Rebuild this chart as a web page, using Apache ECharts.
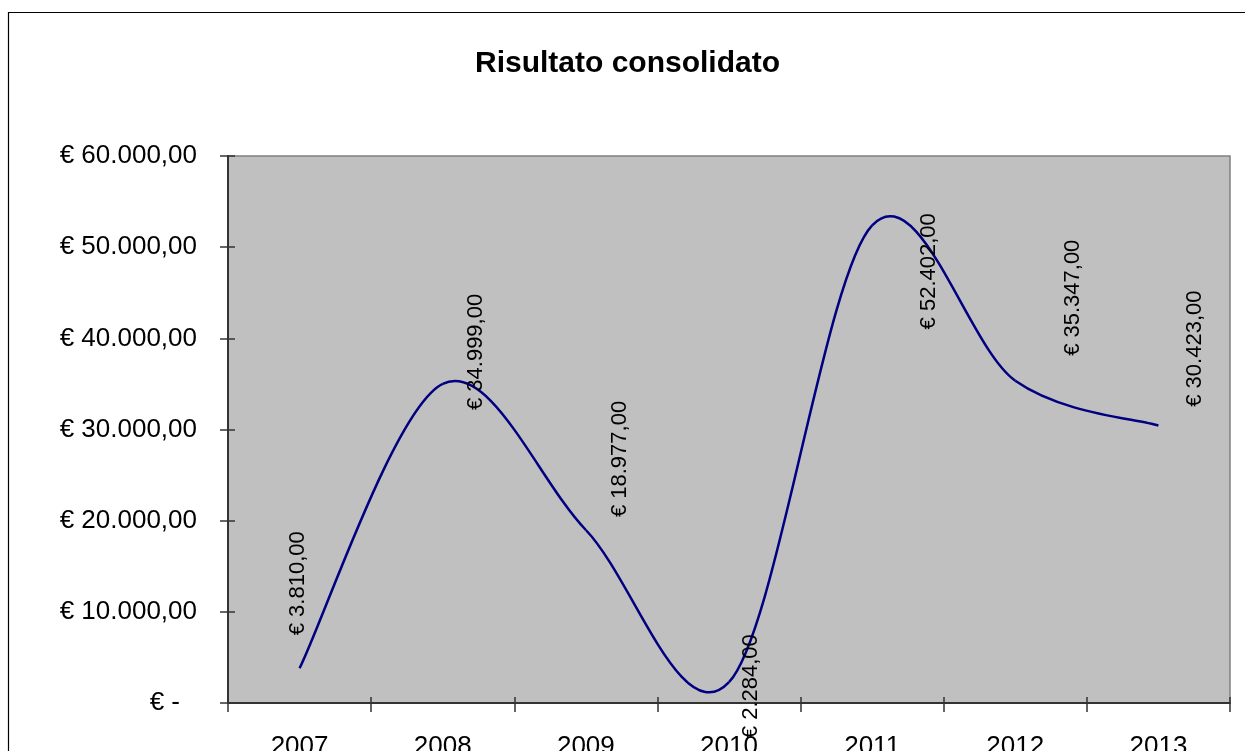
<!DOCTYPE html>
<html>
<head>
<meta charset="utf-8">
<script src="https://cdn.jsdelivr.net/npm/echarts@6/dist/echarts.min.js"></script>
<style>
html,body{margin:0;padding:0;background:#fff;}
#chart{width:1245px;height:751px;}
</style>
</head>
<body>
<div id="chart"></div>
<script>
// ---- data ----
const years = ['2007', '2008', '2009', '2010', '2011', '2012', '2013'];
const results = [3810, 34999, 18977, 2284, 52402, 35347, 30423];
const yTicks = [0, 10000, 20000, 30000, 40000, 50000, 60000];
const chartTitle = 'Risultato consolidato';

// ---- label placement (pixel shifts of each data label from its point) ----
const labelShift = [[-2, -85], [33, -32], [34, -71], [22, 4], [57, 46], [58, -83], [37, -77]];

const FONT = '"Liberation Sans", Arial, sans-serif';

function euro(v) {
  if (v === 0) return '€ -';
  const fixed = Math.abs(v).toFixed(2);
  let [intPart, dec] = fixed.split('.');
  intPart = intPart.replace(/\B(?=(\d{3})+(?!\d))/g, '.');
  return '€ ' + (v < 0 ? '-' : '') + intPart + ',' + dec;
}

const chart = echarts.init(document.getElementById('chart'), null, {renderer: 'canvas'});

function pt(api, j) {
  j = Math.max(0, Math.min(results.length - 1, j));
  return api.coord([j, results[j]]);
}

const option = {
  animation: false,
  backgroundColor: '#ffffff',
  title: {
    text: chartTitle,
    left: 470,
    top: 44,
    textStyle: {fontFamily: FONT, fontSize: 30, fontWeight: 'bold', color: '#000'}
  },
  grid: {
    left: 228, top: 156, right: 15, bottom: 48,
    containLabel: false,
    outerBoundsMode: 'none',
    show: true, backgroundColor: '#C0C0C0', borderColor: '#808080', borderWidth: 1.5
  },
  xAxis: [{
    type: 'category', data: years, boundaryGap: true,
    axisLine: {show: true, lineStyle: {color: '#333', width: 2}},
    axisTick: {show: true, inside: false, length: 9, alignWithLabel: false, lineStyle: {color: '#333', width: 1.5}},
    axisLabel: {fontFamily: FONT, fontSize: 26, color: '#000', margin: 31},
    splitLine: {show: false}
  }, {
    type: 'category', data: years, boundaryGap: true, position: 'bottom',
    axisLine: {show: false},
    axisTick: {show: true, inside: true, length: 6, lineStyle: {color: '#333', width: 1.5}},
    axisLabel: {show: false}, splitLine: {show: false}
  }],
  yAxis: [{
    type: 'value', min: yTicks[0], max: yTicks[yTicks.length - 1], interval: yTicks[1] - yTicks[0],
    axisLine: {show: true, lineStyle: {color: '#333', width: 2}},
    axisTick: {show: true, inside: false, length: 8, lineStyle: {color: '#333', width: 1.5}},
    axisLabel: {
      fontFamily: FONT, fontSize: 26, color: '#000', margin: 31,
      formatter: function (v) { return v === 0 ? '{z|' + euro(v) + '}' : euro(v); },
      rich: {z: {fontFamily: FONT, fontSize: 26, color: '#000', padding: [0, 17, 0, 0]}}
    },
    splitLine: {show: false}
  }, {
    type: 'value', min: yTicks[0], max: yTicks[yTicks.length - 1], interval: yTicks[1] - yTicks[0],
    position: 'left',
    axisLine: {show: false},
    axisTick: {show: true, inside: true, length: 7, lineStyle: {color: '#333', width: 1.5}},
    axisLabel: {show: false}, splitLine: {show: false}
  }],
  graphic: [{
    type: 'rect', left: 6, top: 10,
    shape: {x: 0, y: 0, width: 1300, height: 800},
    style: {fill: 'none', stroke: '#000', lineWidth: 1.2},
    silent: true, z: -10
  }],
  series: [{
    type: 'custom',
    coordinateSystem: 'cartesian2d',
    xAxisIndex: 0, yAxisIndex: 0,
    data: results.map((v, i) => [i, v]),
    encode: {x: 0, y: 1},
    clip: false,
    renderItem: function (params, api) {
      const i = params.dataIndex;
      const children = [];
      if (i < results.length - 1) {
        const p0 = pt(api, i - 1), p1 = pt(api, i), p2 = pt(api, i + 1), p3 = pt(api, i + 2);
        children.push({
          type: 'bezierCurve',
          shape: {
            x1: p1[0], y1: p1[1], x2: p2[0], y2: p2[1],
            cpx1: p1[0] + (p2[0] - p0[0]) / 6, cpy1: p1[1] + (p2[1] - p0[1]) / 6,
            cpx2: p2[0] - (p3[0] - p1[0]) / 6, cpy2: p2[1] - (p3[1] - p1[1]) / 6
          },
          style: {stroke: '#000080', lineWidth: 2.5, fill: null},
          z2: 1
        });
      }
      const p = pt(api, i);
      const sh = labelShift[i];
      children.push({
        type: 'text',
        x: p[0] + sh[0], y: p[1] + sh[1],
        rotation: Math.PI / 2,
        style: {
          text: euro(results[i]), fontFamily: FONT, fontSize: 22, fill: '#000',
          align: 'center', verticalAlign: 'middle'
        },
        z2: 2
      });
      return {type: 'group', children: children};
    }
  }]
};
chart.setOption(option);
</script>
</body>
</html>
